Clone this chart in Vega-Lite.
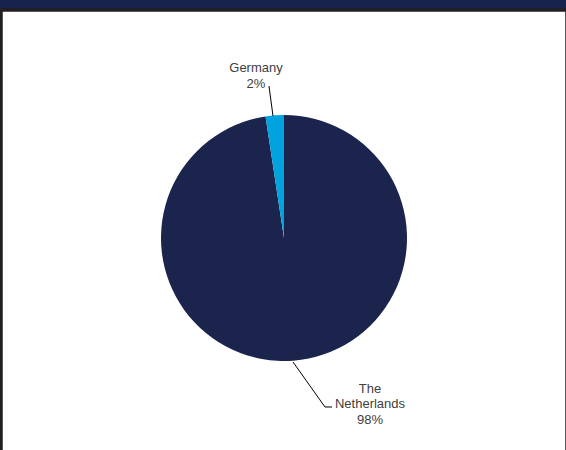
{
  "$schema": "https://vega.github.io/schema/vega-lite/v6.json",
  "autosize": "none",
  "width": 566,
  "height": 456,
  "padding": {"left": 1, "top": 10, "right": 0, "bottom": 0},
  "background": "#17224c",
  "config": {
    "view": {"fill": "#ffffff", "stroke": "#231f20", "strokeWidth": 3.5},
    "text": {"font": "Liberation Sans"}
  },
  "datasets": {
    "slices": [
      {"country": "The Netherlands", "share": 97.6, "rank": 1},
      {"country": "Germany", "share": 2.4, "rank": 2}
    ],
    "labels": [
      {"label": "Germany\n2%", "x": -0.2276, "y": 1.3821},
      {"label": "The\nNetherlands\n98%", "x": 0.6992, "y": -1.2276}
    ],
    "leaders": [
      {"series": "Germany", "step": 1, "x": -0.122, "y": 1.2358},
      {"series": "Germany", "step": 2, "x": -0.0894, "y": 0.9919},
      {"series": "The Netherlands", "step": 1, "x": 0.0732, "y": -1.0081},
      {"series": "The Netherlands", "step": 2, "x": 0.3333, "y": -1.374},
      {"series": "The Netherlands", "step": 3, "x": 0.3902, "y": -1.374}
    ]
  },
  "layer": [
    {
      "data": {"name": "slices"},
      "mark": {"type": "arc", "outerRadius": 123},
      "encoding": {
        "theta": {"field": "share", "type": "quantitative", "stack": true},
        "order": {"field": "rank", "type": "quantitative"},
        "color": {
          "field": "country",
          "type": "nominal",
          "scale": {"domain": ["The Netherlands", "Germany"], "range": ["#1a244d", "#00a3dd"]},
          "legend": null
        }
      }
    },
    {
      "data": {"name": "leaders"},
      "mark": {"type": "line", "color": "#000000", "strokeWidth": 1},
      "encoding": {
        "x": {"field": "x", "type": "quantitative", "scale": {"domain": [-2.3008, 2.3008]}, "axis": null},
        "y": {"field": "y", "type": "quantitative", "scale": {"domain": [-1.8537, 1.8537]}, "axis": null},
        "detail": {"field": "series"},
        "order": {"field": "step", "type": "quantitative"}
      }
    },
    {
      "data": {"name": "labels"},
      "mark": {"type": "text", "fontSize": 13, "color": "#404040", "lineBreak": "\n", "lineHeight": 15.5, "align": "center", "baseline": "middle"},
      "encoding": {
        "x": {"field": "x", "type": "quantitative", "scale": {"domain": [-2.3008, 2.3008]}, "axis": null},
        "y": {"field": "y", "type": "quantitative", "scale": {"domain": [-1.8537, 1.8537]}, "axis": null},
        "text": {"field": "label"}
      }
    }
  ]
}
